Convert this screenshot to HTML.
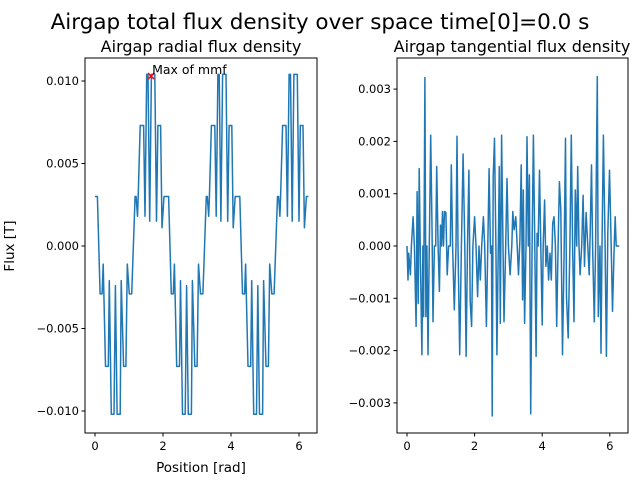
<!DOCTYPE html>
<html><head><meta charset="utf-8"><style>
body{margin:0;background:#fff;font-family:"Liberation Sans","DejaVu Sans",sans-serif}
svg text{font-family:"DejaVu Sans","Liberation Sans",sans-serif}
</style></head><body>
<svg id="fig" width="640" height="480" xmlns="http://www.w3.org/2000/svg">
<rect width="640" height="480" fill="#fff"/>
<text x="320" y="29" font-size="21.5" text-anchor="middle">Airgap total flux density over space time[0]=0.0 s</text>
<text x="201" y="52" font-size="16" text-anchor="middle">Airgap radial flux density</text>
<text x="512" y="52" font-size="16" text-anchor="middle">Airgap tangential flux density</text>
<text x="201" y="472" font-size="13.5" text-anchor="middle">Position [rad]</text>
<text transform="translate(14,246) rotate(-90)" font-size="13.5" text-anchor="middle">Flux [T]</text>
<g id="g1"></g>
<g id="g2"></g>
</svg>
<script>
// Radial flux: one electrical period (rad, mT), repeated 3 times (period 2pi/3)
const radialPeriodX=[0,0.07,0.15,0.21,0.24,0.31,0.39,0.42,0.48,0.56,0.60,0.65,0.74,0.77,0.84,0.91,0.95,1.01,1.08,1.18,1.21,1.25,1.27,1.33,1.43,1.47,1.52,1.56,1.61,1.66,1.76,1.81,1.85,1.93,1.97,2.03,2.09];
const radialPeriodY=[3.0,3.0,-2.9,-2.9,-1.1,-7.3,-7.3,-2.1,-10.2,-10.2,-2.4,-10.2,-10.2,-2.1,-7.3,-7.3,-1.1,-2.9,-2.9,3.0,3.0,1.8,3.0,7.3,7.3,1.8,10.4,10.4,1.5,10.4,10.4,1.5,7.3,7.3,1.1,3.0,3.0];
const radialPeriods=3;
const maxPoint=[1.65,10.3];
const tangX=[0,0.03,0.05,0.10,0.13,0.18,0.22,0.27,0.30,0.33,0.36,0.39,0.44,0.47,0.49,0.53,0.56,0.59,0.62,0.66,0.70,0.74,0.77,0.81,0.85,0.88,0.92,0.96,0.99,1.02,1.05,1.08,1.11,1.15,1.19,1.23,1.28,1.31,1.35,1.40,1.45,1.48,1.51,1.56,1.61,1.66,1.71,1.75,1.79,1.83,1.87,1.91,1.95,2.00,2.04,2.09,2.13,2.17,2.21,2.26,2.30,2.35,2.39,2.43,2.47,2.50,2.52,2.55,2.59,2.63,2.66,2.70,2.73,2.76,2.80,2.84,2.87,2.92,2.96,3.00,3.05,3.10,3.13,3.17,3.22,3.26,3.30,3.34,3.38,3.42,3.44,3.48,3.52,3.55,3.59,3.62,3.66,3.70,3.74,3.78,3.82,3.85,3.88,3.92,3.96,4.00,4.03,4.07,4.11,4.15,4.19,4.23,4.27,4.31,4.35,4.39,4.43,4.47,4.51,4.55,4.60,4.65,4.69,4.72,4.77,4.82,4.86,4.90,4.94,4.98,5.02,5.05,5.09,5.12,5.17,5.21,5.25,5.30,5.35,5.39,5.42,5.46,5.49,5.54,5.58,5.63,5.66,5.71,5.74,5.77,5.81,5.86,5.90,5.94,5.99,6.04,6.08,6.13,6.16,6.19,6.28];
const tangY=[0,-0.65,-0.14,-0.55,0,0.56,0,-1.54,1.04,-1.10,1.48,0,-2.08,0,-1.35,3.22,-1.35,0,-2.08,0,2.12,0.37,-1.45,0,0,1.52,0,-0.87,0.40,0,0.66,0,0.66,0.64,-0.55,0,0,1.55,0,-1.22,0,2.10,0,-2.08,0,1.76,0,-2.11,0,1.45,-1.06,-1.54,0,0.56,0,-0.97,0,-0.65,0,0.56,0,-1.54,0,1.48,-0.14,0,-3.25,1.32,2.06,0,-2.08,0,1.52,-1.48,2.12,0,-1.45,0,1.29,0,-0.55,0,0.66,0.31,0.56,0,-0.55,0.11,1.55,-1.03,1.07,-1.48,0,2.09,0,1.36,-3.21,0,2.12,0,-2.11,0.24,0,1.45,0,-1.51,0,0.88,-0.39,0,-0.65,-0.14,-0.65,0.43,0.56,0,-1.54,0,1.23,0.69,-2.08,0,2.06,-0.97,-1.76,0,2.12,0,-1.45,1.07,0,1.52,0,-0.55,0,0.97,-0.39,0.64,0,-0.55,0.27,1.55,0,-1.45,0,3.24,-1.35,0,-2.05,0,2.12,0,-2.11,0.24,1.45,0,-1.25,0,0.56,0,0];
const xTicks=[0,2,4,6];
const radialYTicks=[0.010,0.005,0,-0.005,-0.010];
const radialYLabels=["0.010","0.005","0.000","\u22120.005","\u22120.010"];
const tangYTicks=[0.003,0.002,0.001,0,-0.001,-0.002,-0.003];
const tangYLabels=["0.003","0.002","0.001","0.000","\u22120.001","\u22120.002","\u22120.003"];

const NS="http://www.w3.org/2000/svg";
function mk(tag,attrs,parent){const e=document.createElementNS(NS,tag);for(const k in attrs)e.setAttribute(k,attrs[k]);parent.appendChild(e);return e;}

function axes(g,box,xs,ys,yTicks,yLabels,prefix){
  mk('rect',{x:box.l,y:box.t,width:box.r-box.l,height:box.b-box.t,fill:'none',stroke:'#000','stroke-width':1},g);
  xTicks.forEach(v=>{const px=xs(v);
    const t=mk('line',{x1:px,x2:px,y1:box.b,y2:box.b+3.5,stroke:'#000'},g);
    
    
    const l=mk('text',{x:px,y:box.b+17,'font-size':11.5,'text-anchor':'middle'},g);l.textContent=String(v);
    
    });
  yTicks.forEach((v,i)=>{const py=ys(v);
    const t=mk('line',{x1:box.l-3.5,x2:box.l,y1:py,y2:py,stroke:'#000'},g);
    
    
    const l=mk('text',{x:box.l-6,y:py+4,'font-size':11.5,'text-anchor':'end'},g);l.textContent=yLabels[i];
    
    });
}
function line(g,X,Y,xs,ys,name){
  const d=X.map((x,i)=>(i?'L':'M')+xs(x).toFixed(1)+','+ys(Y[i]).toFixed(1)).join('');
  const p=mk('path',{d:d,fill:'none',stroke:'#1f77b4','stroke-width':1.5,'stroke-linejoin':'round'},g);
  
  
}
// Radial
const b1={l:85,r:317,t:58,b:433};
const xs1=v=>95+v*34, ys1=v=>246-v*16500;
const g1=document.getElementById('g1');
axes(g1,b1,xs1,ys1,radialYTicks,radialYLabels,'radial');
const rX=[],rY=[];
for(let k=0;k<radialPeriods;k++){radialPeriodX.forEach((x,i)=>{if(k>0&&i===0)return;rX.push(x+k*2*Math.PI/3);rY.push(radialPeriodY[i]/1000);});}
line(g1,rX,rY,xs1,ys1,'radial-flux-line');
const mx=xs1(maxPoint[0]),my=ys1(maxPoint[1]/1000);
const mm=mk('path',{d:`M${mx-3},${my-3}L${mx+3},${my+3}M${mx-3},${my+3}L${mx+3},${my-3}`,stroke:'red','stroke-width':1.5},g1);


const mt=mk('text',{x:mx+1,y:my-2,'font-size':12.5},g1);mt.textContent='Max of mmf';


// Tangential
const b2={l:397,r:628,t:58,b:433};
const xs2=v=>407+v*33.8, ys2=v=>246-v*52300;
const g2=document.getElementById('g2');
axes(g2,b2,xs2,ys2,tangYTicks,tangYLabels,'tangential');
line(g2,tangX,tangY.map(v=>v/1000),xs2,ys2,'tangential-flux-line');
</script>
</body></html>
